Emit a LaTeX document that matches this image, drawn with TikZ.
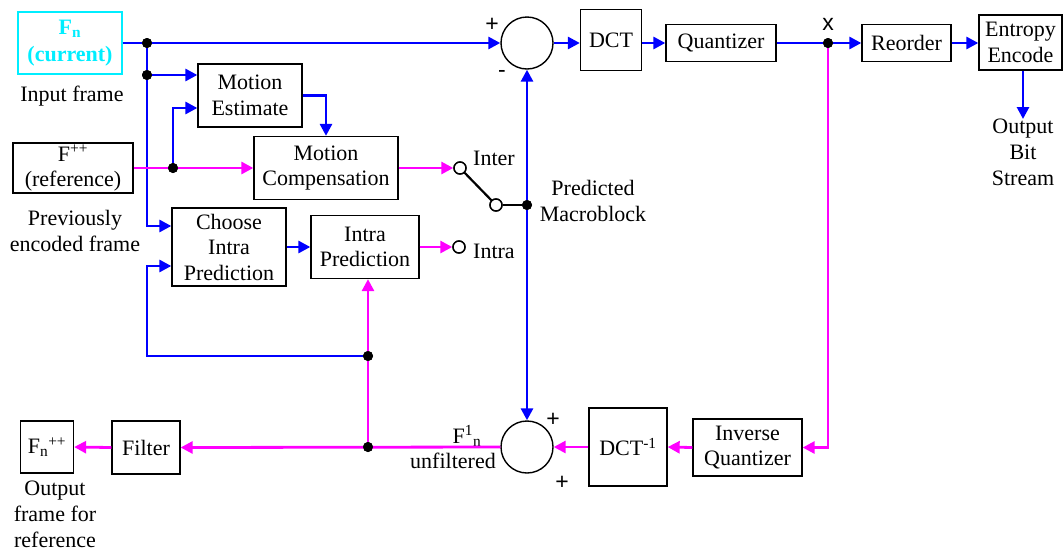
\documentclass[tikz,border=0pt]{standalone}
\usepackage{fontspec}
\setmainfont{LiberationSerif}[Extension=.ttf, UprightFont=*-Regular, BoldFont=*-Bold]
\newfontfamily\bodyserif{LiberationSerif}[Extension=.ttf, UprightFont=*-Regular, BoldFont=*-Bold]
\newfontfamily\signfont{Liberation Sans}
\usetikzlibrary{arrows.meta}
\definecolor{fwdblue}{RGB}{0,0,255}
\definecolor{recmag}{RGB}{255,0,255}
\definecolor{curcyan}{RGB}{0,238,255}

\begin{document}
\begin{tikzpicture}[x=1pt,y=-1pt,
  blk/.style={draw, line width=1.3pt, inner sep=0pt, align=center,
    font=\bodyserif\fontsize{22}{25.5}\selectfont},
  lbl/.style={inner sep=0pt, align=center, font=\bodyserif\fontsize{22}{26}\selectfont},
  sgn/.style={inner sep=0pt, font=\signfont\fontsize{23}{23}\selectfont},
  sum/.style={draw, circle, line width=1.4pt, minimum size=52pt, inner sep=0pt},
  port/.style={draw, circle, fill=white, line width=1.4pt, minimum size=12pt, inner sep=0pt},
  jdot/.style={fill=black, circle, minimum size=10pt, inner sep=0pt},
  tip/.style={-{Triangle[length=12pt,width=12pt]}},
  bl/.style={draw=fwdblue, line width=2.8pt},
  mg/.style={draw=recmag, line width=2.8pt},
  sw/.style={draw=black, line width=2.2pt}]

\useasboundingbox (0,0) rectangle (1063,550);

% ---- blocks ----
\node[blk, draw=curcyan, text=curcyan, font=\bodyserif\bfseries\fontsize{22}{27}\selectfont,
  minimum width=104pt, minimum height=62pt] (cur) at (70,43) {F\textsubscript{n}\\(current)};
\node[lbl] (inlbl) at (72,96) {Input frame};
\node[blk, minimum width=104pt, minimum height=63pt] (me) at (250,95.5) {Motion\\Estimate};
\node[blk, minimum width=120pt, minimum height=50pt] (ref) at (73,168) {F\textsuperscript{++}\\(reference)};
\node[lbl] (prevlbl) at (75,231) {Previously\\encoded frame};
\node[blk, minimum width=144pt, minimum height=63pt] (mc) at (326,168) {Motion\\Compensation};
\node[blk, minimum width=114pt, minimum height=78pt] (cip) at (229,247) {Choose\\Intra\\Prediction};
\node[blk, minimum width=108pt, minimum height=63pt] (ip) at (365,247) {Intra\\Prediction};

\node[sum] (sum1) at (527,43) {};
\node[blk, minimum width=61pt, minimum height=61pt] (dct) at (611,40) {DCT};
\node[blk, minimum width=110pt, minimum height=37pt] (quant) at (721,43) {Quantizer};
\node[blk, minimum width=89pt, minimum height=37pt] (reord) at (906.5,43) {Reorder};
\node[blk, minimum width=83pt, minimum height=55pt] (ent) at (1020.5,42.5) {Entropy\\Encode};
\node[lbl, anchor=north] (outbit) at (1023,119) {Output\\Bit\\Stream};

\node[port] (inter) at (460,168) {};
\node[lbl, anchor=west] (interlbl) at (473,158) {Inter};
\node[port] (swp) at (496,205) {};
\node[jdot] (pmdot) at (527,205) {};
\node[lbl] (pmlbl) at (593,201) {Predicted\\Macroblock};
\node[port] (intra) at (459,247) {};
\node[lbl, anchor=west] (intralbl) at (473,251) {Intra};

\node[sum] (sum2) at (527,447) {};
\node[blk, minimum width=78pt, minimum height=78pt] (idct) at (628,447) {DCT\textsuperscript{-1}};
\node[blk, minimum width=109pt, minimum height=57pt] (iq) at (747.5,447.5) {Inverse\\Quantizer};
\node[blk, minimum width=68pt, minimum height=53pt] (filt) at (146,447.5) {Filter};
\node[blk, minimum width=53pt, minimum height=52pt] (fout) at (47,447) {F\textsubscript{n}\textsuperscript{++}};
\node[lbl] (outlbl) at (55,514) {Output\\frame for\\reference};
\node[lbl] (f1n) at (467,436) {F\textsuperscript{1}\textsubscript{n}};
\node[lbl] (unf) at (453,461) {unfiltered};

% ---- signs ----
\node[sgn] (p1) at (492,25) {+};
\node[sgn] (m1) at (502,74) {-};
\node[sgn] (p2) at (553,420) {+};
\node[sgn] (p3) at (562,483) {+};
\node[sgn] (xl) at (828,24) {x};

% ---- junctions ----
\node[jdot] (c1) at (147,43) {};
\node[jdot] (c2) at (147,75) {};
\node[jdot] (c3) at (173,168) {};
\node[jdot] (c4) at (368,356) {};
\node[jdot] (c5) at (368,447) {};
\node[jdot] (xdot) at (828,43) {};

% ---- forward path (blue) ----
\draw[bl,tip] (cur.east) -- (sum1.west);
\draw[bl,tip] (c1) |- ([yshift=21pt]cip.west);
\draw[bl,tip] (c2) -- (me.west |- c2);
\draw[bl,tip] (c3) |- ([yshift=-12.5pt]me.west);
\draw[bl,tip] (me.east) -| (mc.north);
\draw[bl,tip] (cip.east) -- (ip.west);
\draw[bl,tip] (c4) -- (c4 -| c1) |- ([yshift=-19pt]cip.west);
\draw[bl,tip] (sum1.east) -- (dct.west |- sum1);
\draw[bl,tip] (dct.east |- quant) -- (quant.west);
\draw[bl] (quant.east) -- (xdot);
\draw[bl,tip] (xdot) -- (reord.west);
\draw[bl,tip] (reord.east) -- (ent.west |- reord);
\draw[bl,tip] (ent.south -| outbit) -- (outbit.north);
\draw[bl,{Triangle[length=12pt,width=12pt]}-{Triangle[length=12pt,width=12pt]}] (sum1.south) -- (sum2.north);

% ---- reconstruction path (magenta) ----
\draw[mg,tip] (ref.east) -- (mc.west);
\draw[mg,tip] (mc.east) -- (inter.west);
\draw[mg,tip] (ip.east) -- (intra.west);
\draw[mg,tip] (xdot) |- (iq.east);
\draw[mg,tip] (iq.west) -- (idct.east);
\draw[mg,tip] (idct.west) -- (sum2.east);
\draw[mg,tip] (sum2.west) -- (filt.east);
\draw[mg,tip] (filt.west) -- (fout.east);
\draw[mg,tip] (c5) -- (c5 |- ip.south);

% ---- switch ----
\draw[sw] (inter) -- (swp);
\draw[sw] (swp) -- (pmdot);

% junction dots on top of lines
\foreach \d in {c1,c2,c3,c4,c5,xdot,pmdot} \fill (\d) circle (5pt);
\node[port] at (inter) {};
\node[port] at (swp) {};
\node[port] at (intra) {};
\end{tikzpicture}
\end{document}
